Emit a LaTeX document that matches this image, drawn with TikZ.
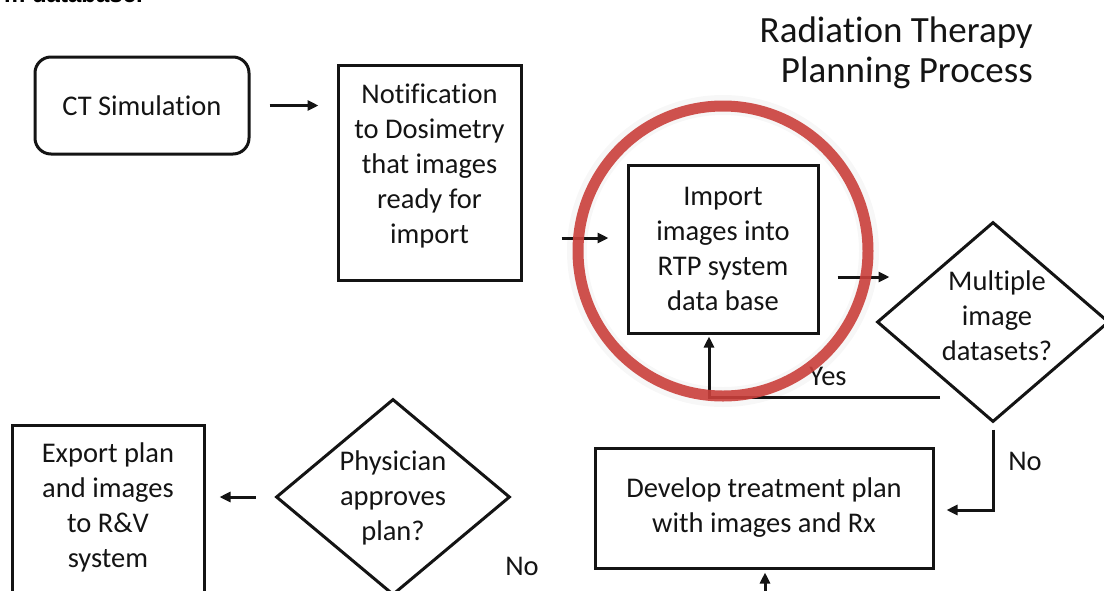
\documentclass[tikz,border=0pt]{standalone}
\usepackage{fontspec}
\setmainfont{Carlito}[Ligatures={NoCommon,NoContextual},Contextuals={NoAlternate}]
\newfontfamily\capfont{Liberation Sans}
\usetikzlibrary{arrows.meta,shapes.geometric}
\definecolor{ringred}{RGB}{202,64,60}
\definecolor{ink}{RGB}{20,20,20}
\begin{document}
\begin{tikzpicture}[x=1pt,y=-1pt,
  txt/.style={align=center, inner sep=0pt, text=ink, font=\fontsize{28.5}{35}\selectfont},
  box/.style={txt, draw=ink, line width=3pt},
  roundbox/.style={box, rounded corners=16pt},
  decision/.style={draw=ink, line width=3pt, shape=diamond, inner sep=0pt},
  arr/.style={draw=ink, line width=3pt, -{Triangle[length=11pt,width=10pt]}},
  lbl/.style={txt},
  ring/.style={draw=ringred, line width=11pt, opacity=0.9}
]
\useasboundingbox (0,0) rectangle (1104,590);
\clip (0,0) rectangle (1104,590);

% cut-off caption fragment at the top
\node[anchor=base east, inner sep=0pt, font=\capfont\bfseries\fontsize{24}{28}\selectfont] (cap) at (143,2.5) {m database.};

% title
\node[anchor=base east, inner sep=0pt, text=ink, font=\fontsize{37}{40}\selectfont] (title1) at (1033,42) {Radiation Therapy};
\node[anchor=base east, inner sep=0pt, text=ink, font=\fontsize{37}{40}\selectfont] (title2) at (1033,82) {Planning Process};

% boxes
\node[roundbox, minimum width=214pt, minimum height=97pt] (ct) at (142,105.5) {CT Simulation};
\node[box, minimum width=183pt, minimum height=215pt] (notif) at (429.5,172.5) {};
\node[txt] (notiftxt) at (429.5,166) {Notification\\to Dosimetry\\that images\\ready for\\import};
\node[box, minimum width=190pt, minimum height=168pt] (imp) at (723,249) {Import\\images into\\RTP system\\data base};
\node[decision, minimum width=232pt, minimum height=200pt] (multi) at (993,322) {};
\node[txt] (multitxt) at (997,316) {Multiple\\image\\datasets?};
\node[box, minimum width=338pt, minimum height=120pt] (dev) at (764,508) {Develop treatment plan\\with images and Rx};
\node[decision, minimum width=234pt, minimum height=196pt] (phys) at (393,497) {};
\node[txt] (phystxt) at (393,498) {Physician\\approves\\plan?};
\node[box, minimum width=192pt, minimum height=180pt] (exp) at (108,515) {};
\node[txt] (exptxt) at (108,507) {Export plan\\and images\\to R\&V\\system};

% connectors
\draw[arr, shorten <=19pt, shorten >=18pt] (ct.east) -- (ct.east -| notif.west);
\coordinate (n2i) at ([shift={(0,-11)}]imp.west);
\draw[arr, shorten <=39pt, shorten >=18pt] (notif.east |- n2i) -- (n2i);
\coordinate (i2m) at ([shift={(18,28)}]imp.east);
\draw[arr] (i2m) -- ++(52,0);
\coordinate (yes0) at (940,397);
\draw[arr, shorten >=2pt] (yes0) -| ([shift={(-14,0)}]imp.south);
\coordinate (no0) at ([shift={(0,6)}]multi.south);
\draw[arr] (no0) |- ([shift={(12,2)}]dev.east);
\coordinate (bot) at (765,600);
\draw[arr, shorten >=3pt] (bot) -- (bot |- dev.south);
\draw[arr, shorten <=19pt, shorten >=14pt] (phys.west) -- (phys.west -| exp.east);

% labels
\node[lbl] (yes) at (828,376) {Yes};
\node[lbl] (no1) at (1025,461) {No};
\node[lbl] (no2) at (522,566) {No};

% red highlight ring
\draw[black, line width=20pt, opacity=0.03] (723,251) circle[radius=146];
\draw[ring] (723,251) circle[radius=145];
\end{tikzpicture}
\end{document}
